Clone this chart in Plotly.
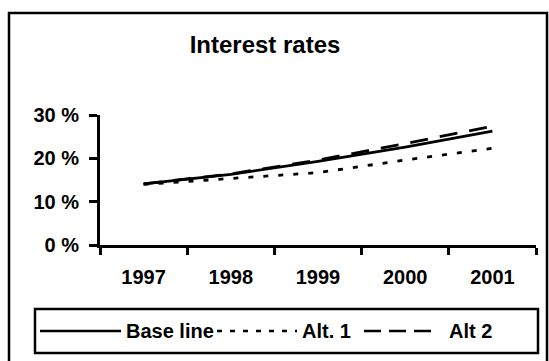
import plotly.graph_objects as go

years = ["1997", "1998", "1999", "2000", "2001"]
base_line = [14.1, 16.3, 19.3, 22.6, 26.3]
alt1 = [14.0, 15.3, 16.7, 19.6, 22.3]
alt2 = [14.1, 16.4, 19.6, 23.4, 27.4]
series_names = ["Base line", "Alt. 1", "Alt 2"]
y_ticks = [0, 10, 20, 30]
y_tick_labels = ["0 %", "10 %", "20 %", "30 %"]
title_text = "Interest rates"

W, H = 549, 361
L, R, T, B = 100, 13, 115, 116
PW, PH = W - L - R, H - T - B

def px(x):
    return (x - L) / PW

def py(y):
    return (H - B - y) / PH

FONT = "Liberation Sans, Arial, sans-serif"

fig = go.Figure()
styles = [
    dict(color="black", width=2.8, dash="solid"),
    dict(color="black", width=2.8, dash="5px,10px"),
    dict(color="black", width=2.8, dash="18px,12px"),
]
for name, vals, st in zip(series_names, [base_line, alt1, alt2], styles):
    fig.add_trace(go.Scatter(x=years, y=vals, mode="lines", name=name,
                             line=st, showlegend=False, hoverinfo="skip"))

shapes = []
shapes.append(dict(type="rect", xref="paper", yref="paper",
                   x0=px(9), x1=px(547), y0=py(370), y1=py(13),
                   line=dict(color="black", width=2.5), fillcolor="rgba(0,0,0,0)"))
shapes.append(dict(type="rect", xref="paper", yref="paper",
                   x0=px(35), x1=px(538), y0=py(353), y1=py(309),
                   line=dict(color="black", width=2.5), fillcolor="rgba(0,0,0,0)"))
leg_y = 331
leg_lines = [(40, 121, "solid"), (217, 297, "5px,8px"), (364, 431, "17px,8px")]
leg_text_x = [124, 300, 447]
annotations = []
for (x0, x1, d), tx, name in zip(leg_lines, leg_text_x, series_names):
    shapes.append(dict(type="line", xref="paper", yref="paper",
                       x0=px(x0), x1=px(x1), y0=py(leg_y), y1=py(leg_y),
                       line=dict(color="black", width=2.5, dash=d)))
    annotations.append(dict(text=name, xref="paper", yref="paper",
                            x=px(tx), y=py(leg_y), xanchor="left", yanchor="middle",
                            showarrow=False,
                            font=dict(family=FONT, size=20, color="black", weight="bold")))

fig.update_layout(
    width=W, height=H,
    margin=dict(l=L, r=R, t=T, b=B),
    paper_bgcolor="white", plot_bgcolor="white",
    title=dict(text=title_text, xref="container", yref="container",
               x=265 / W, y=1 - 45 / H, xanchor="center", yanchor="middle",
               font=dict(family=FONT, size=24, color="black", weight="bold")),
    shapes=shapes,
    annotations=annotations,
    showlegend=False,
)
fig.update_xaxes(type="category", range=[-0.5, 4.5], showline=True, linecolor="black",
                 linewidth=3, ticks="outside", tickson="boundaries", ticklen=7,
                 tickwidth=2.5, tickcolor="black", showgrid=False, zeroline=False,
                 ticklabelstandoff=12,
                 tickfont=dict(family=FONT, size=20, color="black", weight="bold"))
fig.update_yaxes(range=[0, 30], tickmode="array", tickvals=y_ticks, ticktext=y_tick_labels,
                 showline=True,
                 linecolor="black", linewidth=3, ticks="outside", ticklen=8,
                 tickwidth=2.5, tickcolor="black", showgrid=False, zeroline=False,
                 ticklabelstandoff=6,
                 tickfont=dict(family=FONT, size=20, color="black", weight="bold"))

fig.write_html("out.html", config={"displayModeBar": False},
               post_script="document.body.style.margin='0';document.body.style.overflow='hidden';")
